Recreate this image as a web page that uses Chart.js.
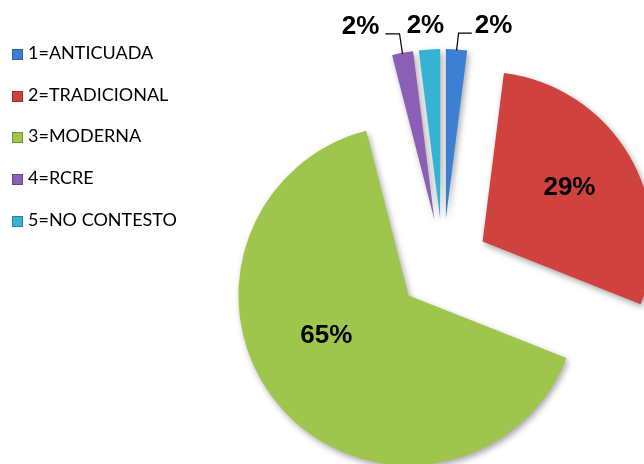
<!DOCTYPE html>
<html>
<head>
<meta charset="utf-8">
<script src="https://cdn.jsdelivr.net/npm/chart.js@4.4.1/dist/chart.umd.min.js"></script>
<style>
  body { margin: 0; background: #fff; }
  #wrap { position: relative; width: 644px; height: 464px; overflow: hidden; }
  #legend { position: absolute; left: 0; top: 0; font-family: Lato, "Liberation Sans", sans-serif; font-size: 18px; color: #000; }
  .item { position: absolute; left: 12px; white-space: nowrap; height: 20px; line-height: 20px; }
  .box { display: inline-block; width: 11px; height: 11px; margin-right: 5px; vertical-align: -1px; box-shadow: inset 0 0 0 1px rgba(0,0,0,0.25); }
</style>
</head>
<body>
<div id="wrap">
  <canvas id="pieChart" width="644" height="464"></canvas>
  <div id="legend"></div>
</div>
<script>
'use strict';

/*global Chart*/
var labels = ['1=ANTICUADA', '2=TRADICIONAL', '3=MODERNA', '4=RCRE', '5=NO CONTESTO'];
var percents = [2, 29, 65, 2, 2];
var sliceColors = ['#3c80d4', '#cf423e', '#9ec54c', '#8a5fb5', '#34b3d3'];

var explode = 46;
var pieRadius = 170;

// label placement: big slices inside, the thin ones above with leaders
var labelDist = [0, 0.6, 0.54, 0, 0];
var labelTurn = [0, -1, 15, 0, 0];
var smallShift = [37, 0, 0, -42, -4];


function buildLegend() {
   var html = '';
   labels.forEach(function(label, i) {
      var top = 42 + i * 41.7;
      html += '<div class="item" style="top:' + top + 'px"><span class="box" style="background:' +
         sliceColors[i] + '"></span>' + label + '</div>';
   });
   document.getElementById('legend').innerHTML = html;
}

var explodePlugin = {
   id: 'explode',
   afterDatasetsUpdate: function(chart) {
      chart.getDatasetMeta(0).data.forEach(function(arc) {
         var mid = (arc.startAngle + arc.endAngle) / 2;
         arc.x += Math.cos(mid) * explode;
         arc.y += Math.sin(mid) * explode;
      });
   }
};

var shadowPlugin = {
   id: 'sliceShadow',
   beforeDatasetsDraw: function(chart) {
      var ctx = chart.ctx;
      ctx.save();
      ctx.shadowColor = 'rgba(0,0,0,0.35)';
      ctx.shadowBlur = 6;
      ctx.shadowOffsetX = 2;
      ctx.shadowOffsetY = 3;
   },
   afterDatasetsDraw: function(chart) {
      chart.ctx.restore();
   }
};

var labelPlugin = {
   id: 'pctLabels',
   afterDatasetsDraw: function(chart) {
      var ctx = chart.ctx;
      ctx.save();
      ctx.font = 'bold 26px "Liberation Sans", Arial, sans-serif';
      ctx.fillStyle = '#000';
      ctx.strokeStyle = '#000';
      ctx.lineWidth = 1.2;
      ctx.textAlign = 'center';
      ctx.textBaseline = 'middle';
      chart.getDatasetMeta(0).data.forEach(function(arc, i) {
         var text = percents[i] + '%';
         var mid = (arc.startAngle + arc.endAngle) / 2;
         if (percents[i] >= 10) {
            var a = mid + labelTurn[i] * Math.PI / 180;
            var r = arc.outerRadius * labelDist[i];
            ctx.fillText(text, arc.x + Math.cos(a) * r, arc.y + Math.sin(a) * r);
            return;
         }
         var ox = arc.x + Math.cos(mid) * arc.outerRadius;
         var oy = arc.y + Math.sin(mid) * arc.outerRadius;
         var lx = ox + smallShift[i];
         var ly = arc.y - arc.outerRadius - 23;
         ctx.fillText(text, lx, ly);
         if (Math.abs(smallShift[i]) > 20) {
            var half = ctx.measureText(text).width / 2;
            ctx.beginPath();
            if (smallShift[i] > 0) {
               ctx.moveTo(ox, oy + 1);
               ctx.lineTo(ox + 2, ly + 7);
               ctx.lineTo(lx - half - 3, ly + 7);
            }
            else {
               ctx.moveTo(ox, oy + 1);
               ctx.lineTo(ox - 3, ly + 7);
               ctx.lineTo(lx + half + 6, ly + 7);
            }
            ctx.stroke();
         }
      });
      ctx.restore();
   }
};

buildLegend();

new Chart(document.getElementById('pieChart'), {
   type: 'pie',
   data: {
      labels: labels,
      datasets: [{
         data: percents,
         backgroundColor: sliceColors,
         borderWidth: 0,
         clip: false
      }]
   },
   options: {
      responsive: false,
      animation: false,
      events: [],
      radius: pieRadius,
      layout: { padding: { left: 242, top: 66, right: 0, bottom: 0 } },
      plugins: {
         legend: { display: false },
         tooltip: { enabled: false }
      }
   },
   plugins: [explodePlugin, shadowPlugin, labelPlugin]
});
</script>
</body>
</html>
